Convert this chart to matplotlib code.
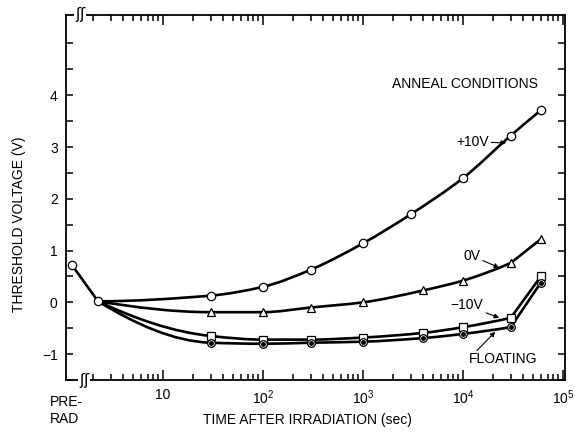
import numpy as np
import matplotlib
matplotlib.use('Agg')
import matplotlib.pyplot as plt
from matplotlib.path import Path
from matplotlib.patches import PathPatch
from matplotlib.ticker import FixedLocator, FixedFormatter, NullFormatter

plt.rcParams['font.family'] = ['Liberation Sans', 'DejaVu Sans']
plt.rcParams['mathtext.fontset'] = 'custom'
plt.rcParams['mathtext.rm'] = 'Liberation Sans'

# --- data (time in sec, threshold voltage in V) ---
PRE_RAD_T = 1.23          # where the pre-rad point sits left of the break
v_pre = 0.72
t_first = 2.24
v_first = 0.02

t_pos10 = [30, 100, 300, 1000, 3000, 1e4, 3e4, 6e4]
v_pos10 = [0.13, 0.30, 0.63, 1.14, 1.70, 2.40, 3.22, 3.71]

t_late = [30, 100, 300, 1000, 4000, 1e4, 3e4, 6e4]
v_zero = [-0.19, -0.19, -0.10, 0.00, 0.23, 0.42, 0.76, 1.22]
v_neg10 = [-0.65, -0.72, -0.72, -0.68, -0.59, -0.48, -0.30, 0.50]
v_float = [-0.78, -0.80, -0.78, -0.76, -0.69, -0.61, -0.48, 0.38]

xticks = [10, 1e2, 1e3, 1e4, 1e5]
xticklabels = ['10', r'$\mathregular{10^2}$', r'$\mathregular{10^3}$',
               r'$\mathregular{10^4}$', r'$\mathregular{10^5}$']
yticks = [-1, 0, 1, 2, 3, 4]
yticklabels = ['\u22121', '0', '1', '2', '3', '4']


def pchip_slopes(px, py):
    h = np.diff(px)
    d = np.diff(py) / h
    n = len(px)
    m = np.zeros(n)
    if n == 2:
        m[:] = d[0]
        return m
    for k in range(1, n - 1):
        if d[k - 1] * d[k] > 0:
            w1 = 2 * h[k] + h[k - 1]
            w2 = h[k] + 2 * h[k - 1]
            m[k] = (w1 + w2) / (w1 / d[k - 1] + w2 / d[k])
    for k0, hh0, hh1, dd0, dd1 in [(0, h[0], h[1], d[0], d[1]),
                                   (n - 1, h[-1], h[-2], d[-1], d[-2])]:
        e = ((2 * hh0 + hh1) * dd0 - hh0 * dd1) / (hh0 + hh1)
        if np.sign(e) != np.sign(dd0):
            e = 0.0
        elif np.sign(dd0) != np.sign(dd1) and abs(e) > abs(3 * dd0):
            e = 3 * dd0
        m[k0] = e
    return m


def smooth_path(t, v, corners=()):
    """Monotone cubic through the points in log-time, broken at corner indices."""
    x = np.log10(np.asarray(t, dtype=float))
    y = np.asarray(v, dtype=float)
    verts = [(x[0], y[0])]
    codes = [Path.MOVETO]
    bounds = [0] + sorted(corners) + [len(x) - 1]
    for a, b in zip(bounds[:-1], bounds[1:]):
        px, py = x[a:b + 1], y[a:b + 1]
        m = pchip_slopes(px, py)
        for i in range(len(px) - 1):
            dx = (px[i + 1] - px[i]) / 3
            verts += [(px[i] + dx, py[i] + m[i] * dx),
                      (px[i + 1] - dx, py[i + 1] - m[i + 1] * dx),
                      (px[i + 1], py[i + 1])]
            codes += [Path.CURVE4] * 3
    verts = [(10 ** vx, vy) for vx, vy in verts]
    return Path(verts, codes)


fig = plt.figure(figsize=(5.75, 4.34), dpi=100)
ax = fig.add_axes([66 / 575, 1 - 380 / 434, 499 / 575, 365 / 434])
ax.set_xscale('log')
ax.set_xlim(10 ** 0.03, 10 ** 5.02)
ax.set_ylim(-1.5, 5.55)

lw = 1.9
ax.plot([PRE_RAD_T, t_first], [v_pre, v_first], color='k', lw=lw, zorder=2)

curves = [
    ([t_first] + t_pos10, [v_first] + v_pos10, ()),
    ([t_first] + t_late, [v_first] + v_zero, (7,)),
    ([t_first] + t_late, [v_first] + v_neg10, (7,)),
    ([t_first] + t_late, [v_first] + v_float, (7,)),
]
for tt, vv, corners in curves:
    ax.add_patch(PathPatch(smooth_path(tt, vv, corners), fc='none', ec='k',
                           lw=lw, zorder=2, capstyle='round', joinstyle='round'))

mk = dict(ls='none', mec='k', mfc='white', mew=0.9, ms=6, zorder=4)
ax.plot([PRE_RAD_T, t_first], [v_pre, v_first], marker='o', **mk)
ax.plot(t_pos10, v_pos10, marker='o', **mk)
ax.plot(t_late, v_zero, marker='^', **mk)
ax.plot(t_late, v_neg10, marker='s', **mk)
ax.plot(t_late, v_float, marker='o', **dict(mk, ms=5.5))
ax.plot(t_late, v_float, ls='none', marker='o', ms=2.5, color='k', zorder=5)

# ticks
ax.xaxis.set_major_locator(FixedLocator(xticks))
ax.xaxis.set_major_formatter(FixedFormatter(xticklabels))
ax.xaxis.set_minor_locator(FixedLocator(
    [k * 10 ** d for d in range(0, 5) for k in range(2, 10)]))
ax.xaxis.set_minor_formatter(NullFormatter())
ax.yaxis.set_major_locator(FixedLocator(yticks))
ax.yaxis.set_major_formatter(FixedFormatter(yticklabels))
ax.yaxis.set_minor_locator(FixedLocator(np.arange(-1.5, 5.01, 0.5)))
ax.tick_params(which='both', direction='in', top=True, right=True,
               width=1.1, labelsize=10)
ax.tick_params(axis='x', which='major', length=7, pad=6)
ax.tick_params(axis='x', which='minor', length=4)
ax.tick_params(axis='y', which='both', length=5, pad=6)
for s in ax.spines.values():
    s.set_linewidth(1.3)

# axis breaks
for xf, yf in [(0.036, 0.0), (0.028, 1.0)]:
    ax.text(xf, yf, '\u0283\u0283', transform=ax.transAxes, ha='center',
            va='center', fontsize=11, family='DejaVu Sans', zorder=6,
            bbox=dict(fc='white', ec='none', pad=0.5), clip_on=False)

ax.set_ylabel('THRESHOLD VOLTAGE (V)', fontsize=10)
ax.yaxis.set_label_coords((26 - 66) / 499, (380 - 224) / 365)
ax.set_xlabel('TIME AFTER IRRADIATION (sec)', fontsize=10)
ax.xaxis.set_label_coords((307 - 66) / 499, (380 - 413) / 365)
fig.text(50 / 575, 1 - 395 / 434, 'PRE-\nRAD', ha='left', va='top',
         fontsize=10, linespacing=1.3)

# annotations
ax.text(1.95e3, 4.21, 'ANNEAL CONDITIONS', ha='left', va='center', fontsize=10)
arrow = dict(arrowstyle='-|>', color='k', lw=0.8, mutation_scale=7,
             shrinkA=0, shrinkB=0)
ax.annotate('+10V', xy=(2.7e4, 3.08), xytext=(1.8e4, 3.1),
            ha='right', va='center', fontsize=10, arrowprops=arrow)
ax.annotate('0V', xy=(2.3e4, 0.67), xytext=(1.48e4, 0.9),
            ha='right', va='center', fontsize=10, arrowprops=arrow)
ax.annotate('\u221210V', xy=(2.3e4, -0.3), xytext=(1.6e4, -0.06),
            ha='right', va='center', fontsize=10, arrowprops=arrow)
ax.text(2.5e4, -1.09, 'FLOATING', ha='center', va='center', fontsize=10)
ax.annotate('', xy=(2.1e4, -0.57), xytext=(1.38e4, -0.93), arrowprops=arrow)

fig.savefig('out.png', dpi=100)
